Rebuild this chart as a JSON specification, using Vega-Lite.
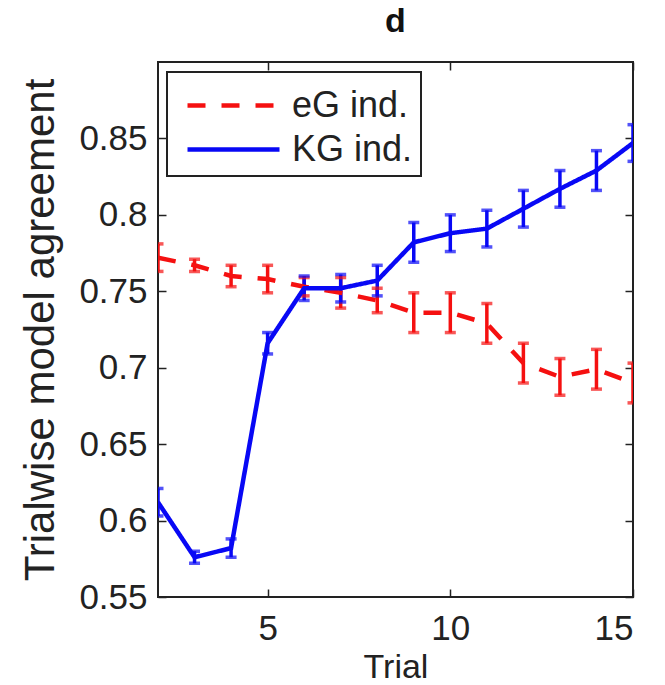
{
  "$schema": "https://vega.github.io/schema/vega-lite/v6.json",
  "width": 475,
  "height": 535,
  "autosize": {"type": "none"},
  "padding": {"left": 158, "top": 62, "right": 32, "bottom": 88},
  "background": "white",
  "config": {
    "font": "Liberation Sans",
    "view": {"stroke": "#222", "strokeWidth": 2},
    "axis": {"grid": false, "domain": false, "tickColor": "#222", "tickWidth": 1.5, "tickSize": -8, "labelFont": "Liberation Sans", "labelFontSize": 35, "labelColor": "#222", "titleFont": "Liberation Sans", "titleColor": "#222", "titleFontWeight": "normal"},
    "legend": {"orient": "none", "legendX": 9, "legendY": 10, "strokeColor": "#222", "strokeWidth": 2, "fillColor": "white", "padding": 8, "symbolType": "M-0.565,0H3.435", "symbolSize": 2116, "symbolStrokeWidth": 4.5, "symbolOpacity": 1, "labelFontSize": 36, "labelColor": "#222", "labelFont": "Liberation Sans", "labelOffset": 66, "rowPadding": 0}
  },
  "title": {"text": "d", "fontSize": 34, "fontWeight": "bold", "font": "Liberation Sans", "color": "#111", "offset": 22, "baseline": "bottom", "anchor": "middle", "frame": "group", "dy": 34},
  "data": {"values": [
    {"series": "eG ind.", "trial": 2, "value": 0.772, "lo": 0.763, "hi": 0.781},
    {"series": "eG ind.", "trial": 3, "value": 0.767, "lo": 0.763, "hi": 0.771},
    {"series": "eG ind.", "trial": 4, "value": 0.760, "lo": 0.753, "hi": 0.767},
    {"series": "eG ind.", "trial": 5, "value": 0.758, "lo": 0.749, "hi": 0.767},
    {"series": "eG ind.", "trial": 6, "value": 0.753, "lo": 0.747, "hi": 0.759},
    {"series": "eG ind.", "trial": 7, "value": 0.749, "lo": 0.739, "hi": 0.759},
    {"series": "eG ind.", "trial": 8, "value": 0.744, "lo": 0.736, "hi": 0.752},
    {"series": "eG ind.", "trial": 9, "value": 0.736, "lo": 0.723, "hi": 0.749},
    {"series": "eG ind.", "trial": 10, "value": 0.736, "lo": 0.723, "hi": 0.749},
    {"series": "eG ind.", "trial": 11, "value": 0.729, "lo": 0.716, "hi": 0.742},
    {"series": "eG ind.", "trial": 12, "value": 0.703, "lo": 0.690, "hi": 0.716},
    {"series": "eG ind.", "trial": 13, "value": 0.694, "lo": 0.682, "hi": 0.706},
    {"series": "eG ind.", "trial": 14, "value": 0.699, "lo": 0.686, "hi": 0.712},
    {"series": "eG ind.", "trial": 15, "value": 0.690, "lo": 0.677, "hi": 0.703},
    {"series": "KG ind.", "trial": 2, "value": 0.612, "lo": 0.603, "hi": 0.621},
    {"series": "KG ind.", "trial": 3, "value": 0.576, "lo": 0.572, "hi": 0.580},
    {"series": "KG ind.", "trial": 4, "value": 0.582, "lo": 0.576, "hi": 0.588},
    {"series": "KG ind.", "trial": 5, "value": 0.716, "lo": 0.709, "hi": 0.723},
    {"series": "KG ind.", "trial": 6, "value": 0.752, "lo": 0.744, "hi": 0.760},
    {"series": "KG ind.", "trial": 7, "value": 0.752, "lo": 0.743, "hi": 0.761},
    {"series": "KG ind.", "trial": 8, "value": 0.757, "lo": 0.747, "hi": 0.767},
    {"series": "KG ind.", "trial": 9, "value": 0.782, "lo": 0.769, "hi": 0.795},
    {"series": "KG ind.", "trial": 10, "value": 0.788, "lo": 0.776, "hi": 0.800},
    {"series": "KG ind.", "trial": 11, "value": 0.791, "lo": 0.779, "hi": 0.803},
    {"series": "KG ind.", "trial": 12, "value": 0.804, "lo": 0.792, "hi": 0.816},
    {"series": "KG ind.", "trial": 13, "value": 0.817, "lo": 0.805, "hi": 0.829},
    {"series": "KG ind.", "trial": 14, "value": 0.829, "lo": 0.816, "hi": 0.842},
    {"series": "KG ind.", "trial": 15, "value": 0.847, "lo": 0.835, "hi": 0.859}
  ]},
  "resolve": {"axis": {"x": "independent", "y": "independent"}},
  "layer": [
    {
      "mark": {"type": "rule", "strokeWidth": 3.5, "clip": true},
      "encoding": {
        "x": {"field": "trial", "type": "quantitative", "scale": {"domain": [2, 15], "nice": false, "zero": false}, "axis": {"orient": "top", "labels": false, "title": null, "values": [5, 10, 15]}},
        "y": {"field": "lo", "type": "quantitative", "scale": {"domain": [0.55, 0.9], "nice": false, "zero": false}, "axis": {"orient": "right", "labels": false, "title": null, "values": [0.55, 0.6, 0.65, 0.7, 0.75, 0.8, 0.85]}},
        "y2": {"field": "hi"},
        "color": {"field": "series", "type": "nominal", "title": null, "scale": {"domain": ["eG ind.", "KG ind."], "range": ["#f51010", "#0808f5"]}}
      }
    },
    {
      "mark": {"type": "tick", "orient": "horizontal", "size": 11, "thickness": 3.5, "clip": true},
      "encoding": {
        "x": {"field": "trial", "type": "quantitative", "axis": null},
        "y": {"field": "lo", "type": "quantitative", "axis": null},
        "color": {"field": "series", "type": "nominal", "title": null}
      }
    },
    {
      "mark": {"type": "tick", "orient": "horizontal", "size": 11, "thickness": 3.5, "clip": true},
      "encoding": {
        "x": {"field": "trial", "type": "quantitative", "axis": null},
        "y": {"field": "hi", "type": "quantitative", "axis": null},
        "color": {"field": "series", "type": "nominal", "title": null}
      }
    },
    {
      "mark": {"type": "line", "strokeWidth": 4.5, "clip": true},
      "encoding": {
        "x": {"field": "trial", "type": "quantitative", "axis": {"orient": "bottom", "values": [5, 10, 15], "title": "Trial", "titleFontSize": 34, "labelPadding": 22, "titleY": 87, "titleBaseline": "bottom"}},
        "y": {"field": "value", "type": "quantitative", "axis": {"orient": "left", "values": [0.55, 0.6, 0.65, 0.7, 0.75, 0.8, 0.85], "format": ".2~f", "title": "Trialwise model agreement", "titleFontSize": 42, "labelPadding": 19, "titleX": -105, "titleBaseline": "alphabetic"}},
        "color": {"field": "series", "type": "nominal", "title": null},
        "strokeDash": {"field": "series", "type": "nominal", "title": null, "scale": {"domain": ["eG ind.", "KG ind."], "range": [[18, 16], [1, 0]]}}
      }
    }
  ]
}
